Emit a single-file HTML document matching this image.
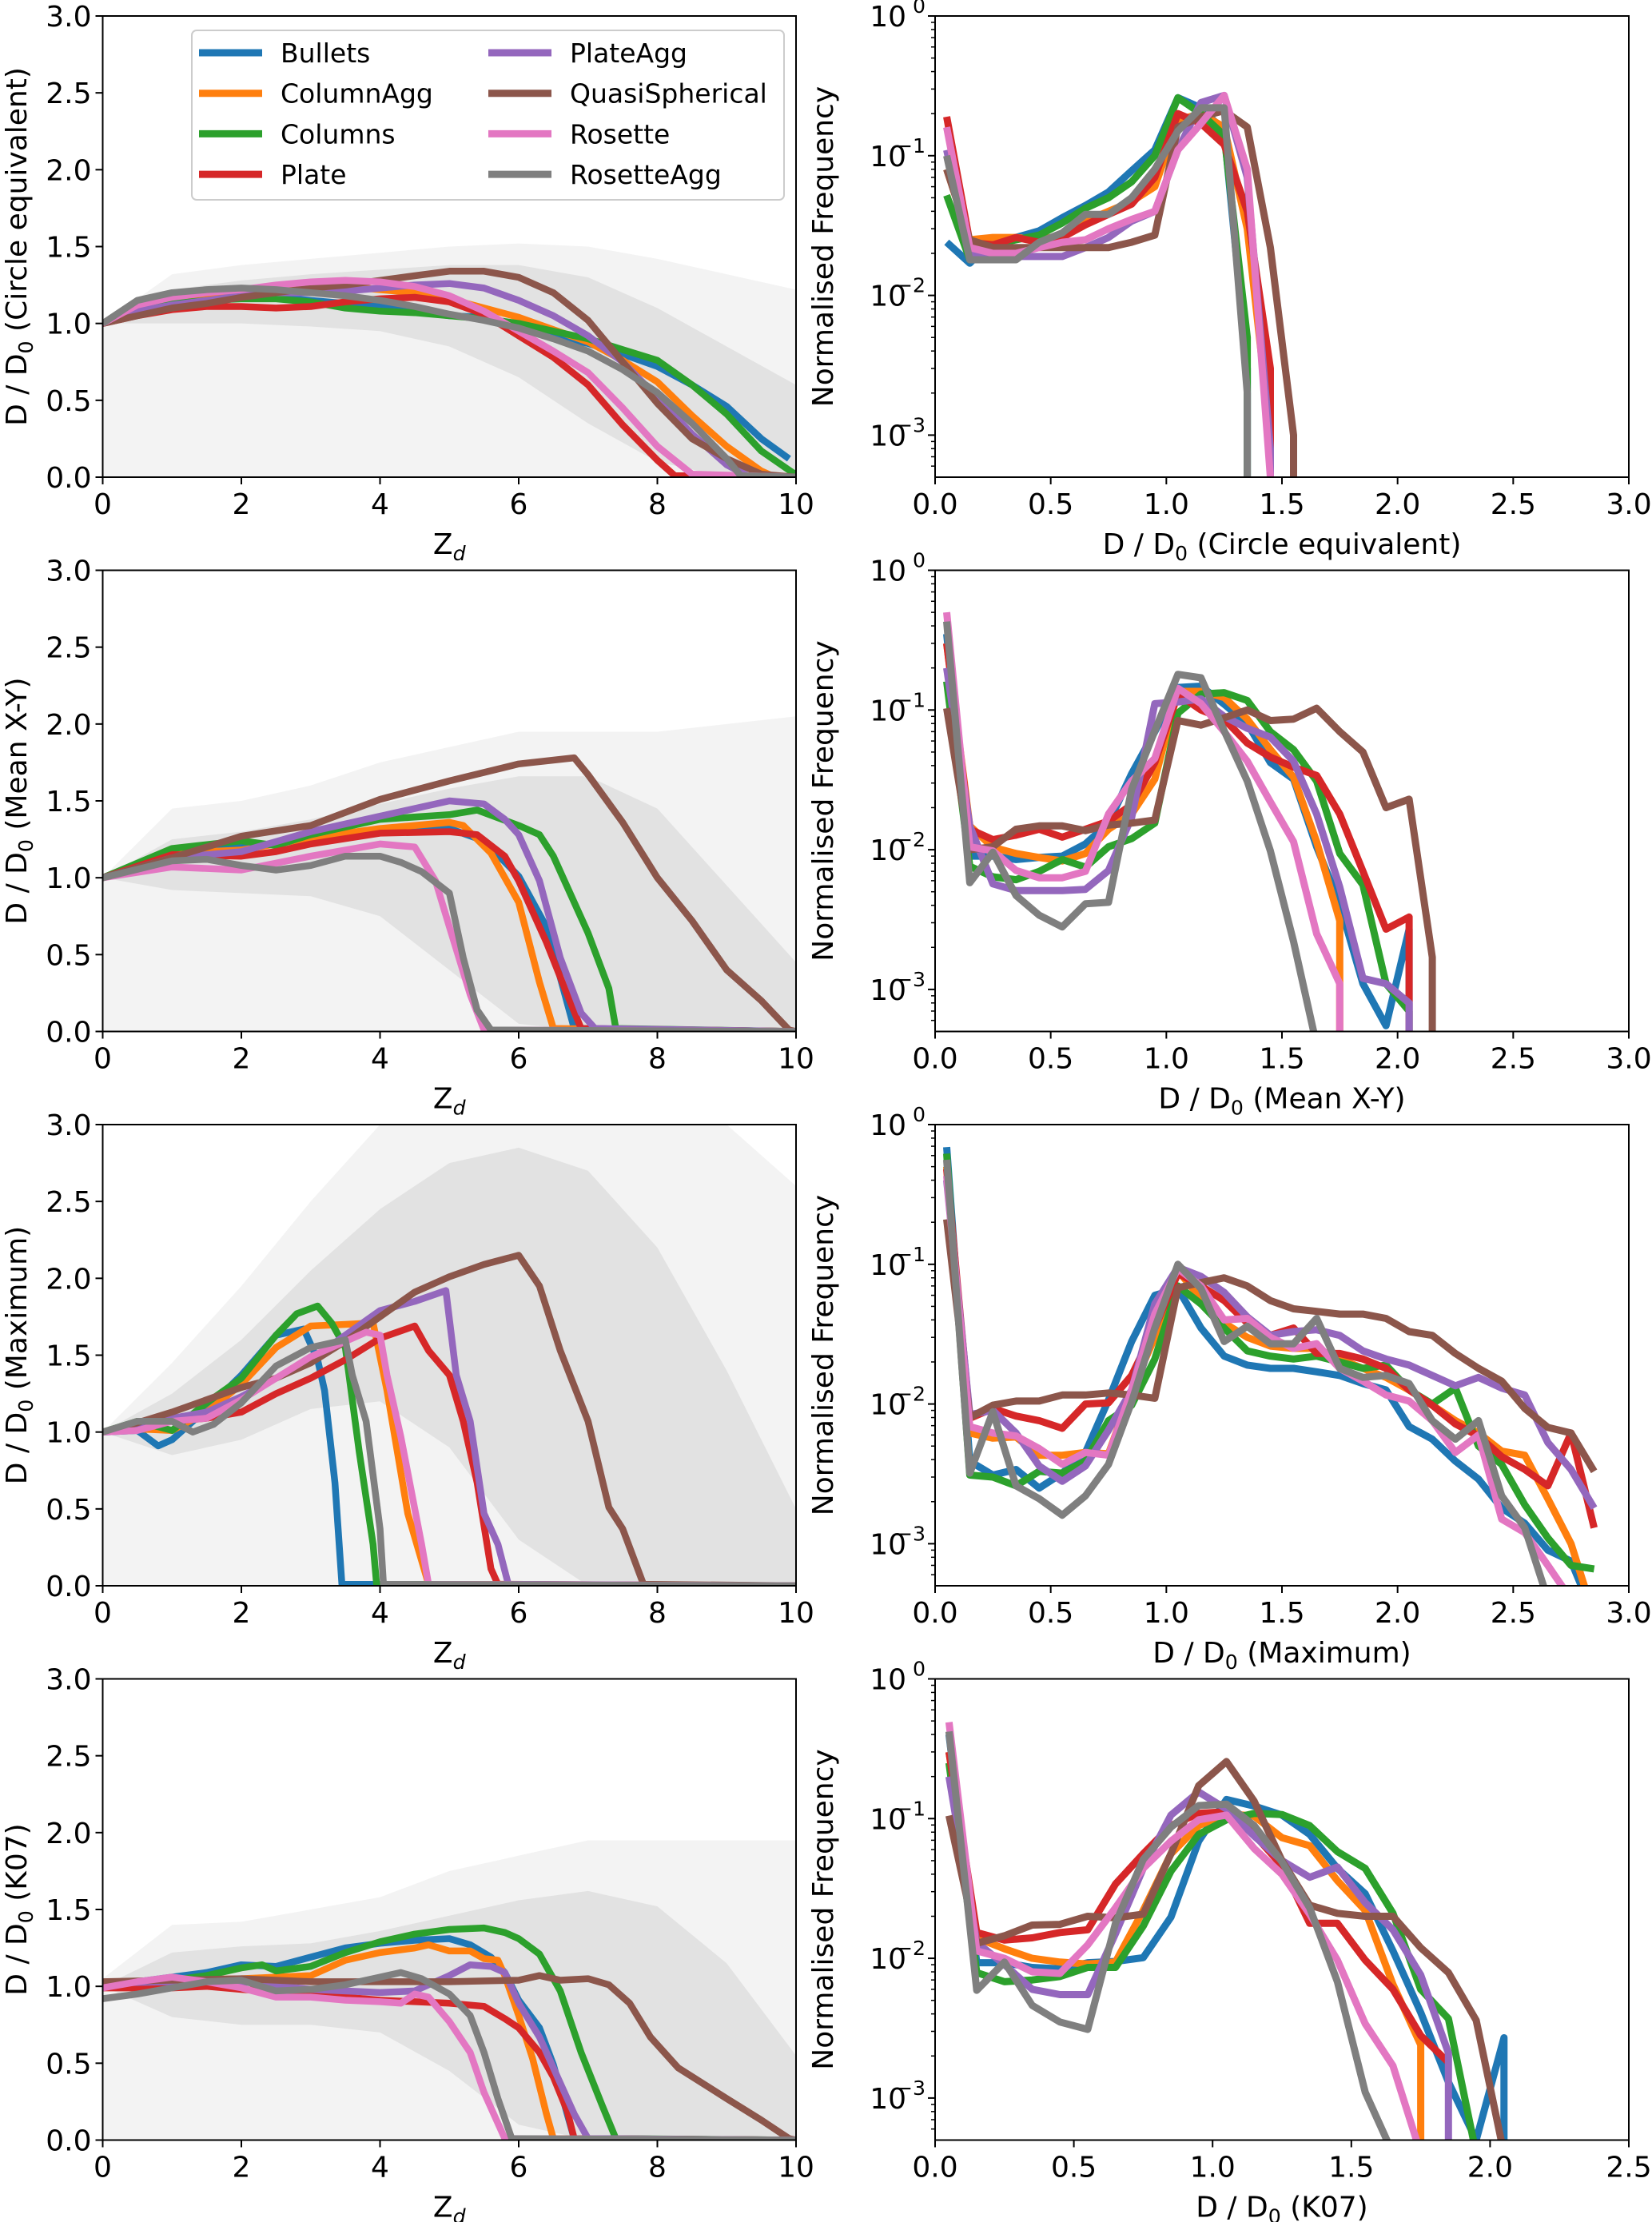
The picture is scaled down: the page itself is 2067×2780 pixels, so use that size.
<!DOCTYPE html>
<html><head><meta charset="utf-8">
<style>
html,body{margin:0;padding:0;background:#fff;}
svg{display:block;font-family:"DejaVu Sans","Liberation Sans",sans-serif;}
</style></head>
<body>
<svg id="fig" width="2067" height="2780" viewBox="0 0 2067 2780" xmlns="http://www.w3.org/2000/svg"></svg>
<script>
// ---------- shared ----------
const seriesNames = ["Bullets","ColumnAgg","Columns","Plate","PlateAgg","QuasiSpherical","Rosette","RosetteAgg"];
const seriesColors = ["#1f77b4","#ff7f0e","#2ca02c","#d62728","#9467bd","#8c564b","#e377c2","#7f7f7f"];
const bins = [0.05,0.15,0.25,0.35,0.45,0.55,0.65,0.75,0.85,0.95,1.05,1.15,1.25,1.35,1.45,1.55,1.65,1.75,1.85,1.95,2.05,2.15,2.25,2.35,2.45,2.55,2.65,2.75,2.85];
const leftXTicks = [0,2,4,6,8,10];
const leftYTicks = [0.0,0.5,1.0,1.5,2.0,2.5,3.0];
const rightXTicksA = [0.0,0.5,1.0,1.5,2.0,2.5,3.0];
const rightXTicksB = [0.0,0.5,1.0,1.5,2.0,2.5];
const logDecades = [0,-1,-2,-3];
const envX = [0,1,2,3,4,5,6,7,8,9,10];

// ---------- panel 1 : circle equivalent ----------
const ceZdBullets=[[0,1],[0.5,1.1],[1,1.13],[1.5,1.15],[2,1.17],[2.5,1.17],[3,1.15],[3.5,1.13],[4,1.11],[4.5,1.08],[5,1.05],[5.5,1.04],[6,0.97],[6.5,0.92],[7,0.87],[7.5,0.8],[8,0.72],[8.5,0.6],[9,0.46],[9.5,0.25],[9.9,0.12]];
const ceZdColumnAgg=[[0,1],[0.5,1.1],[1,1.14],[1.5,1.17],[2,1.2],[2.5,1.22],[3,1.23],[3.5,1.24],[4,1.22],[4.5,1.2],[5,1.16],[5.5,1.1],[6,1.04],[6.5,0.96],[7,0.88],[7.5,0.76],[8,0.62],[8.5,0.4],[9,0.2],[9.5,0.04],[9.7,0],[10,0]];
const ceZdColumns=[[0,1],[0.5,1.1],[1,1.13],[1.5,1.15],[2,1.16],[2.5,1.16],[3,1.14],[3.5,1.1],[4,1.08],[4.5,1.07],[5,1.05],[5.5,1.03],[6,1.0],[6.5,0.95],[7,0.9],[7.5,0.83],[8,0.76],[8.5,0.6],[9,0.41],[9.5,0.17],[9.95,0.03],[10,0.02]];
const ceZdPlate=[[0,1],[0.5,1.05],[1,1.09],[1.5,1.11],[2,1.11],[2.5,1.1],[3,1.11],[3.5,1.14],[4,1.16],[4.5,1.17],[5,1.14],[5.5,1.06],[6,0.92],[6.5,0.78],[7,0.6],[7.5,0.34],[8,0.11],[8.25,0.01],[10,0]];
const ceZdPlateAgg=[[0,1],[0.5,1.08],[1,1.12],[1.5,1.15],[2,1.18],[2.5,1.2],[3,1.2],[3.5,1.21],[4,1.23],[4.5,1.25],[5,1.26],[5.5,1.23],[6,1.15],[6.5,1.05],[7,0.92],[7.5,0.75],[8,0.52],[8.5,0.28],[9,0.08],[9.3,0.01],[10,0]];
const ceZdQuasi=[[0,1],[0.5,1.05],[1,1.1],[1.5,1.13],[2,1.17],[2.5,1.2],[3,1.23],[3.5,1.25],[4,1.28],[4.5,1.31],[5,1.34],[5.5,1.34],[6,1.3],[6.5,1.2],[7,1.02],[7.5,0.75],[8,0.48],[8.5,0.25],[9,0.12],[9.5,0.02],[10,0]];
const ceZdRosette=[[0,1],[0.5,1.12],[1,1.17],[1.5,1.2],[2,1.22],[2.5,1.25],[3,1.27],[3.5,1.28],[4,1.27],[4.5,1.24],[5,1.18],[5.5,1.08],[6,0.95],[6.5,0.82],[7,0.68],[7.5,0.45],[8,0.2],[8.5,0.02],[10,0]];
const ceZdRosetteAgg=[[0,1],[0.5,1.15],[1,1.2],[1.5,1.22],[2,1.23],[2.5,1.22],[3,1.2],[3.5,1.18],[4,1.15],[4.5,1.11],[5,1.06],[5.5,1.02],[6,0.97],[6.5,0.9],[7,0.82],[7.5,0.7],[8,0.55],[8.5,0.35],[9,0.12],[9.2,0.01],[10,0]];
const ceEnvHaze=[1,1.32,1.38,1.42,1.46,1.5,1.52,1.5,1.42,1.32,1.22];
const ceEnvCoreUp=[1,1.22,1.28,1.32,1.35,1.38,1.38,1.3,1.1,0.85,0.6];
const ceEnvCoreLo=[1,1.0,1.0,0.98,0.95,0.85,0.65,0.35,0.1,0,0];
const ceFreqBullets=[0.024,0.017,0.025,0.026,0.029,0.036,0.044,0.055,0.078,0.11,0.26,0.22,0.15,0.003,0];
const ceFreqColumnAgg=[0.08,0.025,0.026,0.026,0.025,0.027,0.034,0.04,0.047,0.06,0.18,0.2,0.16,0.03,0.001,0];
const ceFreqColumns=[0.052,0.018,0.023,0.025,0.027,0.033,0.042,0.05,0.065,0.1,0.26,0.2,0.14,0.005,0];
const ceFreqPlate=[0.19,0.024,0.023,0.026,0.024,0.026,0.032,0.038,0.045,0.07,0.2,0.17,0.12,0.04,0.003,0];
const ceFreqPlateAgg=[0.11,0.02,0.018,0.019,0.019,0.019,0.022,0.026,0.034,0.04,0.11,0.24,0.27,0.07,0.0008,0];
const ceFreqQuasi=[0.08,0.025,0.022,0.022,0.022,0.022,0.022,0.022,0.024,0.027,0.16,0.19,0.21,0.16,0.022,0.001,0];
const ceFreqRosette=[0.16,0.022,0.02,0.02,0.022,0.024,0.025,0.03,0.035,0.04,0.11,0.17,0.27,0.08,0.0005,0];
const ceFreqRosetteAgg=[0.1,0.018,0.018,0.018,0.024,0.028,0.038,0.038,0.05,0.08,0.15,0.22,0.22,0.002,0];

// ---------- panel 2 : mean X-Y ----------
const mxyZdBullets=[[0,1],[1,1.18],[2,1.2],[3,1.25],[4,1.3],[5,1.32],[5.5,1.24],[6,1.01],[6.4,0.68],[6.8,0.02],[10,0]];
const mxyZdColumnAgg=[[0,1],[1,1.16],[2,1.18],[3,1.26],[4,1.32],[5,1.36],[5.2,1.34],[5.6,1.16],[6,0.84],[6.3,0.32],[6.5,0.02],[10,0]];
const mxyZdColumns=[[0,1],[1,1.19],[2,1.24],[2.5,1.21],[3,1.28],[4,1.38],[5,1.41],[5.4,1.44],[6,1.34],[6.3,1.28],[6.5,1.14],[7,0.64],[7.3,0.28],[7.4,0.02],[10,0]];
const mxyZdPlate=[[0,1],[1,1.15],[2,1.14],[2.5,1.17],[3,1.22],[4,1.29],[5,1.3],[5.4,1.28],[5.8,1.14],[6,0.98],[6.4,0.58],[6.7,0.24],[6.9,0.02],[10,0]];
const mxyZdPlateAgg=[[0,1],[1,1.13],[2,1.17],[3,1.3],[4,1.4],[5,1.5],[5.5,1.48],[5.8,1.38],[6,1.28],[6.3,0.98],[6.6,0.48],[6.9,0.12],[7.1,0.02],[10,0]];
const mxyZdQuasi=[[0,1],[1,1.13],[2,1.27],[3,1.34],[4,1.51],[5,1.63],[6,1.74],[6.8,1.78],[7,1.67],[7.5,1.36],[8,1.0],[8.5,0.72],[9,0.4],[9.5,0.2],[9.9,0.01],[10,0]];
const mxyZdRosette=[[0,1],[1,1.07],[2,1.05],[3,1.14],[4,1.22],[4.5,1.2],[4.8,0.98],[5,0.68],[5.3,0.24],[5.5,0.01],[10,0]];
const mxyZdRosetteAgg=[[0,1],[1,1.11],[1.5,1.12],[2,1.08],[2.5,1.05],[3,1.08],[3.5,1.14],[4,1.14],[4.3,1.1],[4.6,1.04],[5,0.9],[5.2,0.48],[5.4,0.14],[5.6,0.01],[10,0]];
const mxyEnvHaze=[1,1.45,1.5,1.6,1.75,1.85,1.95,1.95,1.95,2.0,2.05];
const mxyEnvCoreUp=[1,1.25,1.3,1.38,1.48,1.58,1.66,1.66,1.45,0.95,0.45];
const mxyEnvCoreLo=[1,0.92,0.9,0.88,0.75,0.4,0.05,0,0,0,0];
const mxyFreqBullets=[0.35,0.009,0.009,0.0085,0.0088,0.009,0.011,0.0155,0.035,0.07,0.145,0.148,0.11,0.08,0.042,0.032,0.0105,0.0041,0.0011,0.00055,0.0027,0];
const mxyFreqColumnAgg=[0.3,0.0148,0.0104,0.0094,0.0088,0.0083,0.0094,0.014,0.018,0.032,0.136,0.136,0.123,0.086,0.052,0.033,0.0114,0.0031,0];
const mxyFreqColumns=[0.16,0.0076,0.0064,0.0061,0.007,0.0085,0.0075,0.0105,0.012,0.0155,0.095,0.13,0.133,0.117,0.07,0.052,0.031,0.0094,0.0056,0.0011,0.0007,0];
const mxyFreqPlate=[0.3,0.014,0.0118,0.0127,0.014,0.0123,0.014,0.016,0.021,0.042,0.13,0.1,0.086,0.058,0.046,0.039,0.034,0.018,0.007,0.0027,0.0033,0];
const mxyFreqPlateAgg=[0.2,0.0148,0.0057,0.0051,0.0051,0.0051,0.0052,0.0071,0.017,0.111,0.114,0.12,0.09,0.074,0.064,0.043,0.018,0.0054,0.0012,0.0011,0.0008,0];
const mxyFreqQuasi=[0.103,0.01,0.0105,0.014,0.0148,0.0148,0.0137,0.015,0.0155,0.0163,0.084,0.078,0.088,0.1,0.084,0.086,0.103,0.07,0.05,0.02,0.023,0.0017,0];
const mxyFreqRosette=[0.5,0.0105,0.0098,0.0071,0.0063,0.0063,0.007,0.018,0.031,0.045,0.143,0.111,0.07,0.043,0.022,0.0114,0.0025,0.0011,0];
const mxyFreqRosetteAgg=[0.43,0.0058,0.0096,0.0047,0.0034,0.0028,0.0041,0.0042,0.027,0.071,0.18,0.17,0.071,0.031,0.0098,0.0022,0.0004];

// ---------- panel 3 : maximum ----------
const maxZdBullets=[[0,1],[0.5,1.01],[0.8,0.91],[1,0.95],[1.5,1.15],[2,1.37],[2.5,1.63],[2.9,1.67],[3.1,1.47],[3.2,1.27],[3.35,0.67],[3.45,0.01],[10,0]];
const maxZdColumnAgg=[[0,1],[0.5,1.02],[1,1.01],[1.5,1.13],[2,1.31],[2.5,1.55],[3,1.69],[3.5,1.7],[3.9,1.71],[4.1,1.27],[4.4,0.47],[4.7,0.01],[10,0]];
const maxZdColumns=[[0,1],[0.5,1.07],[1,1.01],[1.5,1.19],[2,1.35],[2.5,1.63],[2.8,1.77],[3.1,1.82],[3.3,1.71],[3.5,1.55],[3.7,0.87],[3.9,0.27],[3.95,0.01],[10,0]];
const maxZdPlate=[[0,1],[0.5,1.05],[1,1.07],[1.5,1.09],[2,1.13],[2.5,1.25],[3,1.35],[3.5,1.47],[4,1.61],[4.5,1.69],[4.7,1.53],[5,1.37],[5.2,1.07],[5.4,0.67],[5.6,0.11],[5.7,0.01],[10,0]];
const maxZdPlateAgg=[[0,1],[0.5,1.04],[1,1.09],[1.5,1.13],[2,1.23],[2.5,1.35],[3,1.47],[3.5,1.63],[4,1.79],[4.5,1.85],[4.95,1.92],[5.1,1.37],[5.3,1.07],[5.5,0.47],[5.7,0.27],[5.85,0.01],[10,0]];
const maxZdQuasi=[[0,1],[0.5,1.06],[1,1.13],[1.5,1.21],[2,1.29],[2.5,1.35],[3,1.45],[3.5,1.59],[4,1.75],[4.5,1.91],[5,2.01],[5.5,2.09],[6,2.15],[6.3,1.95],[6.6,1.53],[7,1.07],[7.3,0.51],[7.5,0.37],[7.8,0.01],[10,0]];
const maxZdRosette=[[0,1],[0.5,1.01],[1,1.07],[1.5,1.09],[2,1.21],[2.5,1.35],[3,1.49],[3.5,1.59],[3.8,1.65],[4,1.63],[4.1,1.37],[4.3,0.97],[4.6,0.27],[4.7,0.01],[10,0]];
const maxZdRosetteAgg=[[0,1],[0.5,1.07],[1,1.07],[1.3,1.0],[1.6,1.05],[2,1.19],[2.5,1.43],[3,1.55],[3.5,1.6],[3.6,1.37],[3.8,1.07],[4.0,0.37],[4.05,0.01],[10,0]];
const maxEnvHaze=[1,1.45,1.95,2.5,3,3,3,3,3,3,2.6];
const maxEnvCoreUp=[1,1.25,1.6,2.05,2.45,2.75,2.85,2.7,2.2,1.4,0.5];
const maxEnvCoreLo=[1,0.85,0.95,1.15,1.2,0.9,0.3,0,0,0,0];
const maxFreqBullets=[0.69,0.0039,0.0031,0.0034,0.0025,0.0032,0.0045,0.0107,0.028,0.06,0.067,0.035,0.022,0.019,0.018,0.018,0.017,0.016,0.014,0.0126,0.0069,0.0056,0.0039,0.0029,0.0018,0.0014,0.0009,0.00075,0.0003];
const maxFreqColumnAgg=[0.5,0.0062,0.0057,0.0058,0.0043,0.0043,0.0045,0.0044,0.0126,0.03,0.09,0.057,0.038,0.03,0.026,0.025,0.025,0.021,0.018,0.0155,0.0126,0.0098,0.0076,0.0062,0.0046,0.0043,0.0021,0.001,0.0003];
const maxFreqColumns=[0.62,0.0031,0.003,0.0026,0.0033,0.0032,0.0039,0.0076,0.0098,0.021,0.07,0.052,0.035,0.024,0.022,0.021,0.022,0.02,0.018,0.019,0.0126,0.01,0.013,0.005,0.0037,0.0019,0.0011,0.0007,0.00066];
const maxFreqPlate=[0.48,0.0079,0.0093,0.0082,0.0076,0.0067,0.01,0.0102,0.016,0.035,0.086,0.07,0.055,0.038,0.031,0.035,0.023,0.023,0.021,0.018,0.0126,0.0098,0.0072,0.0059,0.0042,0.0034,0.0026,0.0062,0.0013];
const maxFreqPlateAgg=[0.4,0.0084,0.009,0.0062,0.0036,0.0028,0.0036,0.0065,0.0126,0.052,0.095,0.082,0.063,0.042,0.031,0.033,0.034,0.031,0.024,0.021,0.019,0.016,0.0135,0.0155,0.013,0.0116,0.0053,0.0034,0.0018];
const maxFreqQuasi=[0.21,0.008,0.0098,0.0105,0.0105,0.0116,0.0116,0.012,0.0116,0.011,0.068,0.074,0.08,0.07,0.055,0.048,0.046,0.044,0.044,0.041,0.033,0.031,0.023,0.018,0.0146,0.0093,0.0068,0.0062,0.0033];
const maxFreqRosette=[0.43,0.0069,0.0062,0.0059,0.0048,0.0037,0.0045,0.0043,0.0126,0.044,0.093,0.07,0.04,0.041,0.03,0.025,0.027,0.018,0.0146,0.0116,0.0105,0.0076,0.0045,0.006,0.0015,0.0012,0.0007,0.0004];
const maxFreqRosetteAgg=[0.56,0.0032,0.0088,0.0026,0.0021,0.0016,0.0022,0.0037,0.0103,0.035,0.1,0.067,0.028,0.036,0.027,0.027,0.041,0.018,0.0155,0.016,0.014,0.0076,0.0056,0.0076,0.0022,0.0013,0.0004];

// ---------- panel 4 : K07 ----------
const k07ZdBullets=[[0,1],[1,1.06],[1.5,1.09],[2,1.14],[2.5,1.13],[3,1.19],[3.5,1.25],[4,1.28],[4.5,1.3],[5,1.31],[5.3,1.27],[5.6,1.19],[5.8,1.09],[6,0.91],[6.3,0.73],[6.5,0.49],[6.7,0.17],[6.8,0.01],[10,0]];
const k07ZdColumnAgg=[[0,1.02],[1,1.04],[2,1.05],[3,1.07],[3.5,1.17],[4,1.22],[4.5,1.25],[4.7,1.27],[5,1.23],[5.3,1.23],[5.5,1.18],[5.7,1.17],[5.8,1.07],[6,0.81],[6.2,0.53],[6.4,0.17],[6.5,0.01],[10,0]];
const k07ZdColumns=[[0,1],[1,1.04],[1.5,1.07],[2,1.12],[2.3,1.14],[2.5,1.1],[3,1.13],[3.5,1.22],[4,1.29],[4.5,1.34],[5,1.37],[5.5,1.38],[5.8,1.35],[6,1.31],[6.3,1.21],[6.6,0.97],[6.9,0.57],[7.2,0.23],[7.4,0.01],[10,0]];
const k07ZdPlate=[[0,0.99],[1,0.99],[1.5,1.0],[2,0.98],[3,0.95],[4,0.91],[5,0.89],[5.5,0.87],[5.8,0.79],[6,0.73],[6.3,0.57],[6.5,0.41],[6.7,0.19],[6.8,0.01],[10,0]];
const k07ZdPlateAgg=[[0,1.02],[1,1.03],[2,1.03],[3,0.98],[4,0.96],[4.5,0.97],[5,1.07],[5.3,1.14],[5.6,1.13],[5.8,1.09],[6,0.89],[6.3,0.67],[6.5,0.47],[6.8,0.17],[7.0,0.01],[10,0]];
const k07ZdQuasi=[[0,1.03],[1,1.04],[2,1.05],[3,1.03],[4,1.03],[5,1.03],[6,1.04],[6.3,1.07],[6.6,1.04],[7,1.05],[7.3,1.01],[7.6,0.89],[7.9,0.67],[8.3,0.47],[9,0.27],[9.5,0.13],[9.9,0.01],[10,0]];
const k07ZdRosette=[[0,0.99],[0.5,1.03],[1,1.06],[1.5,1.03],[2,0.99],[2.5,0.93],[3,0.93],[3.5,0.91],[4,0.9],[4.3,0.89],[4.5,0.95],[4.7,0.93],[5,0.77],[5.3,0.57],[5.5,0.31],[5.8,0.01],[10,0]];
const k07ZdRosetteAgg=[[0,0.92],[0.5,0.95],[1,0.99],[1.5,1.03],[2,1.04],[2.5,0.97],[3,0.98],[3.5,1.01],[4,1.06],[4.3,1.09],[4.6,1.05],[5,0.95],[5.3,0.81],[5.5,0.57],[5.7,0.27],[5.9,0.01],[10,0]];
const k07EnvHaze=[1.05,1.4,1.42,1.5,1.58,1.75,1.85,1.95,1.95,1.95,1.95];
const k07EnvCoreUp=[1,1.22,1.26,1.28,1.36,1.46,1.56,1.62,1.52,1.15,0.55];
const k07EnvCoreLo=[1,0.8,0.75,0.75,0.7,0.45,0.1,0,0,0,0];
const k07FreqBullets=[0.4,0.0093,0.0093,0.0086,0.0084,0.0093,0.0095,0.0101,0.0197,0.069,0.137,0.123,0.106,0.077,0.044,0.029,0.0113,0.0041,0.0013,0.0005,0.0027,0];
const k07FreqColumnAgg=[0.3,0.014,0.0117,0.01,0.0094,0.0091,0.0094,0.022,0.056,0.089,0.109,0.104,0.073,0.064,0.036,0.022,0.0065,0.0024,0];
const k07FreqColumns=[0.25,0.0079,0.0068,0.007,0.0074,0.0086,0.0086,0.017,0.042,0.077,0.098,0.109,0.107,0.089,0.058,0.044,0.021,0.006,0.0037,0.0004];
const k07FreqPlate=[0.3,0.0153,0.0135,0.014,0.0153,0.016,0.034,0.056,0.089,0.109,0.112,0.077,0.046,0.0178,0.0178,0.0097,0.006,0.0028,0.0018];
const k07FreqPlateAgg=[0.2,0.013,0.009,0.006,0.0055,0.0055,0.015,0.044,0.106,0.155,0.117,0.075,0.05,0.038,0.045,0.025,0.016,0.0076,0.0021,0];
const k07FreqQuasi=[0.105,0.0128,0.0145,0.0173,0.0175,0.02,0.0195,0.0207,0.056,0.172,0.256,0.133,0.05,0.024,0.021,0.02,0.02,0.0119,0.0079,0.0036,0.0004];
const k07FreqRosette=[0.49,0.0113,0.01,0.008,0.0078,0.0125,0.023,0.044,0.069,0.098,0.106,0.061,0.04,0.0207,0.0097,0.0034,0.0017,0.0004];
const k07FreqRosetteAgg=[0.42,0.0059,0.0094,0.0046,0.0035,0.0031,0.0178,0.051,0.087,0.124,0.127,0.089,0.049,0.023,0.0068,0.0011,0.0004];

const panels = [
 {key:"ce", label:"Circle equivalent", xmax:3.0, xt:rightXTicksA,
  zd:[ceZdBullets,ceZdColumnAgg,ceZdColumns,ceZdPlate,ceZdPlateAgg,ceZdQuasi,ceZdRosette,ceZdRosetteAgg],
  env:[ceEnvHaze,ceEnvCoreUp,ceEnvCoreLo],
  fr:[ceFreqBullets,ceFreqColumnAgg,ceFreqColumns,ceFreqPlate,ceFreqPlateAgg,ceFreqQuasi,ceFreqRosette,ceFreqRosetteAgg]},
 {key:"mxy", label:"Mean X-Y", xmax:3.0, xt:rightXTicksA,
  zd:[mxyZdBullets,mxyZdColumnAgg,mxyZdColumns,mxyZdPlate,mxyZdPlateAgg,mxyZdQuasi,mxyZdRosette,mxyZdRosetteAgg],
  env:[mxyEnvHaze,mxyEnvCoreUp,mxyEnvCoreLo],
  fr:[mxyFreqBullets,mxyFreqColumnAgg,mxyFreqColumns,mxyFreqPlate,mxyFreqPlateAgg,mxyFreqQuasi,mxyFreqRosette,mxyFreqRosetteAgg]},
 {key:"max", label:"Maximum", xmax:3.0, xt:rightXTicksA,
  zd:[maxZdBullets,maxZdColumnAgg,maxZdColumns,maxZdPlate,maxZdPlateAgg,maxZdQuasi,maxZdRosette,maxZdRosetteAgg],
  env:[maxEnvHaze,maxEnvCoreUp,maxEnvCoreLo],
  fr:[maxFreqBullets,maxFreqColumnAgg,maxFreqColumns,maxFreqPlate,maxFreqPlateAgg,maxFreqQuasi,maxFreqRosette,maxFreqRosetteAgg]},
 {key:"k07", label:"K07", xmax:2.5, xt:rightXTicksB,
  zd:[k07ZdBullets,k07ZdColumnAgg,k07ZdColumns,k07ZdPlate,k07ZdPlateAgg,k07ZdQuasi,k07ZdRosette,k07ZdRosetteAgg],
  env:[k07EnvHaze,k07EnvCoreUp,k07EnvCoreLo],
  fr:[k07FreqBullets,k07FreqColumnAgg,k07FreqColumns,k07FreqPlate,k07FreqPlateAgg,k07FreqQuasi,k07FreqRosette,k07FreqRosetteAgg]}
];

// ---------- drawing ----------
const NS="http://www.w3.org/2000/svg";
const svg=document.getElementById("fig");
function mk(tag,attrs,parent){const e=document.createElementNS(NS,tag);for(const k in attrs)e.setAttribute(k,attrs[k]);(parent||svg).appendChild(e);return e;}
const LX0=128.5, LX1=996, RX0=1170, RX1=2038, PH=577, ROWSTEP=693.5, TOP0=20;
const LOGMIN=-3.301;
const FS=36;

function xL(v){return LX0+v/10*(LX1-LX0);}
function yL(top,v){return top+PH-v/3*PH;}
function xR(v,xmax){return RX0+v/xmax*(RX1-RX0);}
function yR(top,v){const lv=Math.log10(v);return top+(-lv)/(-LOGMIN)*PH;}
function fmt(v){return v.toFixed(1);}

function dLabel(g,x,y,rot,suffix,name){
  const t=mk("text",{x:x,y:y,"font-size":FS,"text-anchor":"middle",fill:"#000",transform:rot?`rotate(-90 ${x} ${y})`:""},g);
  
  
  t.appendChild(document.createTextNode("D / D"));
  const s=mk("tspan",{"font-size":FS*0.7,dy:8},t);s.textContent="0";
  const r=mk("tspan",{dy:-8},t);r.textContent=" ("+suffix+")";
  return t;
}

panels.forEach((p,i)=>{
  const top=TOP0+i*ROWSTEP, bot=top+PH;
  // ===== left panel =====
  const gL=mk("g",{});
  
  
  const cid="clipL"+i;
  const cp=mk("clipPath",{id:cid},gL);mk("rect",{x:LX0,y:top,width:LX1-LX0,height:PH},cp);
  const plotL=mk("g",{"clip-path":`url(#${cid})`},gL);
  const [haze,cu,cl]=p.env;
  let hz=envX.map((x,k)=>`${xL(x)},${yL(top,haze[k])}`).join(" ")+` ${xL(10)},${yL(top,0)} ${xL(0)},${yL(top,0)}`;
  const hp=mk("polygon",{points:hz,fill:"#f3f3f3"},plotL);
  
  
  let core=envX.map((x,k)=>`${xL(x)},${yL(top,cu[k])}`).join(" ")+" "+envX.slice().reverse().map((x,k)=>`${xL(x)},${yL(top,cl[envX.length-1-k])}`).join(" ");
  const cpg=mk("polygon",{points:core,fill:"#e2e2e2"},plotL);
  
  
  p.zd.forEach((ser,s)=>{
    const d=ser.map((pt,k)=>(k?"L":"M")+xL(pt[0]).toFixed(1)+","+yL(top,pt[1]).toFixed(1)).join("");
    const pa=mk("path",{d:d,fill:"none",stroke:seriesColors[s],"stroke-width":8.5,"stroke-linejoin":"round","stroke-linecap":"butt"},plotL);
    
    
  });
  mk("rect",{x:LX0,y:top,width:LX1-LX0,height:PH,fill:"none",stroke:"#000","stroke-width":2},gL);
  leftXTicks.forEach(v=>{
    const x=xL(v);
    mk("line",{x1:x,x2:x,y1:bot,y2:bot+9,stroke:"#000","stroke-width":2},gL);
    const t=mk("text",{x:x,y:bot+46,"font-size":FS,"text-anchor":"middle"},gL);t.textContent=String(v);
    
    
  });
  leftYTicks.forEach(v=>{
    const y=yL(top,v);
    mk("line",{x1:LX0-9,x2:LX0,y1:y,y2:y,stroke:"#000","stroke-width":2},gL);
    const t=mk("text",{x:LX0-14,y:y+13,"font-size":FS,"text-anchor":"end"},gL);t.textContent=fmt(v);
    
    
  });
  const xl=mk("text",{x:(LX0+LX1)/2,y:bot+96,"font-size":FS,"text-anchor":"middle"},gL);
  
  
  xl.appendChild(document.createTextNode("Z"));
  const sub=mk("tspan",{"font-size":FS*0.7,dy:8,"font-style":"italic"},xl);sub.textContent="d";
  dLabel(gL,33,(top+bot)/2,true,p.label,'y-axis-title');

  // ===== right panel =====
  const gR=mk("g",{});
  
  
  const cid2="clipR"+i;
  const cp2=mk("clipPath",{id:cid2},gR);mk("rect",{x:RX0,y:top,width:RX1-RX0,height:PH},cp2);
  const plotR=mk("g",{"clip-path":`url(#${cid2})`},gR);
  p.fr.forEach((vals,s)=>{
    let d="", lastX=null;
    for(let k=0;k<vals.length;k++){
      const v=vals[k];
      if(v<=0){ if(lastX!==null) d+="L"+lastX.toFixed(1)+","+(bot+40); break; }
      const x=xR(bins[k],p.xmax);
      d+=(k?"L":"M")+x.toFixed(1)+","+yR(top,v).toFixed(1);
      lastX=x;
    }
    const pa=mk("path",{d:d,fill:"none",stroke:seriesColors[s],"stroke-width":9,"stroke-linejoin":"round"},plotR);
    
    
  });
  mk("rect",{x:RX0,y:top,width:RX1-RX0,height:PH,fill:"none",stroke:"#000","stroke-width":2},gR);
  p.xt.forEach(v=>{
    const x=xR(v,p.xmax);
    mk("line",{x1:x,x2:x,y1:bot,y2:bot+9,stroke:"#000","stroke-width":2},gR);
    const t=mk("text",{x:x,y:bot+46,"font-size":FS,"text-anchor":"middle"},gR);t.textContent=fmt(v);
    
    
  });
  logDecades.forEach(dec=>{
    const y=yR(top,Math.pow(10,dec));
    mk("line",{x1:RX0-9,x2:RX0,y1:y,y2:y,stroke:"#000","stroke-width":2},gR);
    const t=mk("text",{x:RX0-36,y:y+13,"font-size":FS,"text-anchor":"end"},gR);
    
    
    t.appendChild(document.createTextNode("10"));
    const e=mk("text",{x:RX0-12,y:y-4,"font-size":FS*0.7,"text-anchor":"end"},gR);
    e.textContent=dec===0?"0":"\u2212"+(-dec);
    
    
    for(let m=2;m<=9;m++){
      const v=m*Math.pow(10,dec-1);
      if(Math.log10(v)<LOGMIN)continue;
      const ym=yR(top,v);
      mk("line",{x1:RX0-5,x2:RX0,y1:ym,y2:ym,stroke:"#000","stroke-width":1.5},gR);
    }
  });
  dLabel(gR,(RX0+RX1)/2,bot+96,false,p.label,'x-axis-title');
  const yl=mk("text",{x:1042,y:(top+bot)/2,"font-size":FS,"text-anchor":"middle",transform:`rotate(-90 1042 ${(top+bot)/2})`},gR);
  yl.textContent="Normalised Frequency";
  
  
});

// ---------- legend ----------
const lg=mk("g",{});


mk("rect",{x:240,y:38,width:741,height:212,rx:6,fill:"#fff","fill-opacity":0.85,stroke:"#cccccc","stroke-width":2},lg);
seriesNames.forEach((n,s)=>{
  const col=s<4?0:1,row=s%4;
  const hx=col?611:249, tx=col?713:351, y=66+row*50.7;
  const g=mk("g",{},lg);
  
  
  mk("line",{x1:hx,x2:hx+79,y1:y,y2:y,stroke:seriesColors[s],"stroke-width":9},g);
  const t=mk("text",{x:tx,y:y+12,"font-size":33},g);t.textContent=n;
});
</script>
</body></html>
